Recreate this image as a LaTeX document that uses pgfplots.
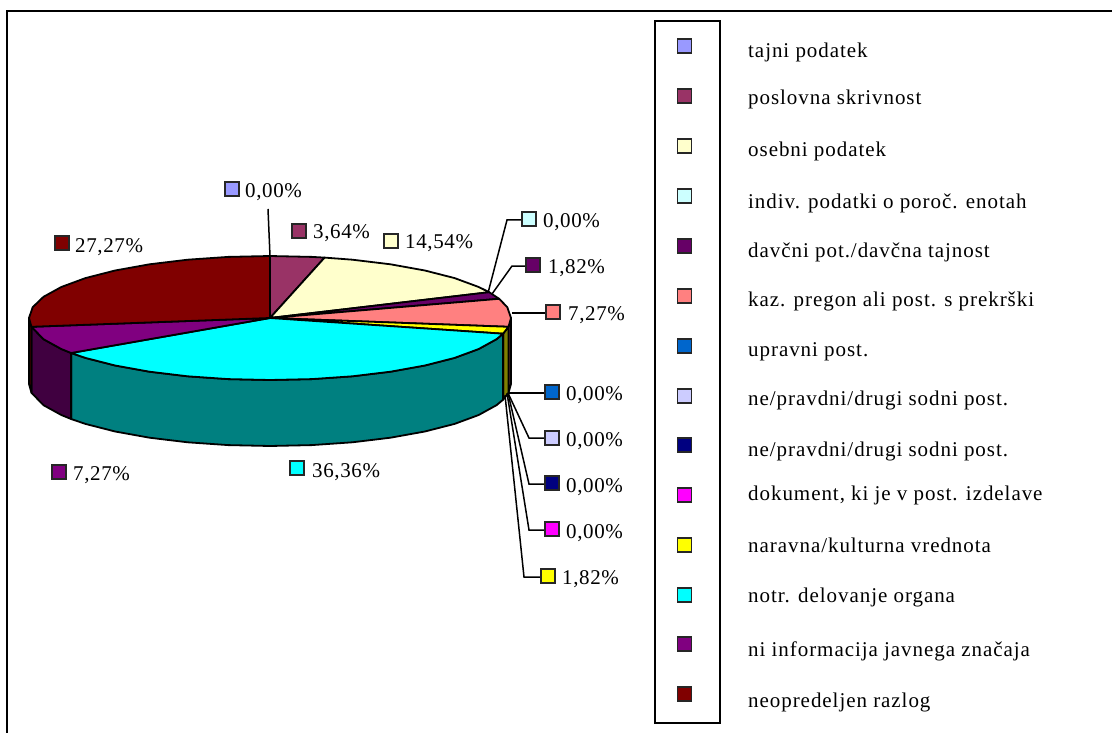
\documentclass[border=0pt]{standalone}
\usepackage{pgfplots}
\pgfplotsset{compat=1.18}
\usepackage{fontspec}
\setmainfont{Liberation Serif}[LetterSpace=3]
\newfontfamily\legfont{Liberation Serif}[LetterSpace=4.5]
\definecolor{c1}{HTML}{9999FF}\definecolor{c2}{HTML}{993366}\definecolor{c3}{HTML}{FFFFCC}
\definecolor{c4}{HTML}{CCFFFF}\definecolor{c5}{HTML}{660066}\definecolor{c6}{HTML}{FF8080}
\definecolor{c7}{HTML}{0066CC}\definecolor{c8}{HTML}{CCCCFF}\definecolor{c9}{HTML}{000080}
\definecolor{c10}{HTML}{FF00FF}\definecolor{c11}{HTML}{FFFF00}\definecolor{c12}{HTML}{00FFFF}
\definecolor{c13}{HTML}{800080}\definecolor{c14}{HTML}{800000}
\definecolor{w6}{HTML}{804040}\definecolor{w11}{HTML}{808000}\definecolor{w12}{HTML}{008080}
\definecolor{w13}{HTML}{400040}\definecolor{w14}{HTML}{400000}
\pgfplotsset{
  sl/.style={fill=#1,draw=black,line width=1.8pt,line join=round},
  lead/.style={black,line width=1.5pt,no markers},
  box/.style={only marks,mark=square*,mark size=7pt,mark options={fill=#1,draw=black!85,line width=1.5pt}},
}
\newcommand{\lab}[3]{\node[anchor=base west,inner sep=0pt,font=\fontsize{21}{25}\selectfont] at (axis cs:#1,#2) {#3};}
\newcommand{\leg}[3]{\node[anchor=base west,inner sep=0pt,font=\legfont\fontsize{21}{25}\selectfont] at (axis cs:#1,#2) {#3};}
\begin{document}
\begin{tikzpicture}
\path[use as bounding box] (0,0) rectangle (1112pt,733pt);
\begin{axis}[anchor=south west,at={(0,0)},scale only axis,width=1112pt,height=733pt,
  xmin=0,xmax=1112,ymin=0,ymax=733,y dir=reverse,hide axis,clip=false]
% frame
\addplot[black,line width=2.5pt,no markers] coordinates {(7,733)(7,11)(1112,11)};
% walls (rim point, rim point + depth)
\addplot[sl=w6] coordinates {(511,318)(508.5,326.8)(508.5,392.8)(511,384)} -- cycle;
\addplot[sl=w11] coordinates {(508.5,326.8)(503.1,333.7)(503.1,399.7)(508.5,392.8)} -- cycle;
\addplot[sl=w12] coordinates {(503.1,333.7)(496.5,339.2)(478.7,349)(454.6,357.9)(424.9,365.5)(390.5,371.7)(352.4,376.3)(311.8,379.1)(270,380)(228.2,379.1)(187.6,376.3)(149.5,371.7)(115.1,365.5)(85.4,357.9)(71.1,353)
  (71.1,419)(85.4,423.9)(115.1,431.5)(149.5,437.7)(187.6,442.3)(228.2,445.1)(270,446)(311.8,445.1)(352.4,442.3)(390.5,437.7)(424.9,431.5)(454.6,423.9)(478.7,415)(496.5,405.2)(503.1,399.7)} -- cycle;
\addplot[sl=w13] coordinates {(71.1,353)(61.3,349)(43.5,339.2)(31.5,326.8)(31.5,392.8)(43.5,405.2)(61.3,415)(71.1,419)} -- cycle;
\addplot[sl=w14] coordinates {(31.5,326.8)(29,318)(29,384)(31.5,392.8)} -- cycle;
% top faces
\addplot[sl=c2] coordinates {(270,318)(270,256)(311.8,256.9)(324.6,257.6)} -- cycle;
\addplot[sl=c3] coordinates {(270,318)(324.6,257.6)(352.4,259.7)(390.5,264.3)(424.9,270.5)(454.6,278.1)(478.7,287)(489.2,292.2)} -- cycle;
\addplot[sl=c5] coordinates {(270,318)(489.2,292.2)(499.2,298.8)} -- cycle;
\addplot[sl=c6] coordinates {(270,318)(499.2,298.8)(507.3,307.2)(511,318)(508.5,326.8)} -- cycle;
\addplot[sl=c11] coordinates {(270,318)(508.5,326.8)(503.1,333.7)} -- cycle;
\addplot[sl=c12] coordinates {(270,318)(503.1,333.7)(496.5,339.2)(478.7,349)(454.6,357.9)(424.9,365.5)(390.5,371.7)(352.4,376.3)(311.8,379.1)(270,380)(228.2,379.1)(187.6,376.3)(149.5,371.7)(115.1,365.5)(85.4,357.9)(71.1,353)} -- cycle;
\addplot[sl=c13] coordinates {(270,318)(71.1,353)(61.3,349)(43.5,339.2)(31.5,326.8)} -- cycle;
\addplot[sl=c14] coordinates {(270,318)(31.5,326.8)(29,318)(32.7,307.2)(43.5,296.8)(61.3,287)(85.4,278.1)(115.1,270.5)(149.5,264.3)(187.6,259.7)(228.2,256.9)(270,256)} -- cycle;
% leader lines
\addplot[lead] coordinates {(268,209)(270,256)};
\addplot[lead] coordinates {(488,293)(507,220)(521,220)};
\addplot[lead] coordinates {(492,294)(512,266)(526,266)};
\addplot[lead] coordinates {(512,313)(546,313)};
\addplot[lead] coordinates {(509,393)(544,393)};
\addplot[lead] coordinates {(508,393)(529,438)(544,438)};
\addplot[lead] coordinates {(508,393)(529,484)(544,484)};
\addplot[lead] coordinates {(507,393)(529,530)(544,530)};
\addplot[lead] coordinates {(505,395)(524,577)(541,577)};
% data label keys
\addplot[box=c1] coordinates {(232,189)};
\addplot[box=c2] coordinates {(299,231)};
\addplot[box=c3] coordinates {(391,241)};
\addplot[box=c4] coordinates {(529,219)};
\addplot[box=c5] coordinates {(533,265)};
\addplot[box=c6] coordinates {(553,312)};
\addplot[box=c7] coordinates {(552,392)};
\addplot[box=c8] coordinates {(552,438)};
\addplot[box=c9] coordinates {(552,483)};
\addplot[box=c10] coordinates {(552,529)};
\addplot[box=c11] coordinates {(548,576)};
\addplot[box=c12] coordinates {(297,468)};
\addplot[box=c13] coordinates {(59,472)};
\addplot[box=c14] coordinates {(62,243)};
\lab{245}{197}{0,00\%}
\lab{313}{239}{3,64\%}
\lab{405}{248}{14,54\%}
\lab{543}{227}{0,00\%}
\lab{548}{273}{1,82\%}
\lab{568}{320}{7,27\%}
\lab{566}{400}{0,00\%}
\lab{566}{446}{0,00\%}
\lab{566}{492}{0,00\%}
\lab{566}{538}{0,00\%}
\lab{562}{584}{1,82\%}
\lab{312}{477}{36,36\%}
\lab{73}{480}{7,27\%}
\lab{75}{252}{27,27\%}
% legend
\addplot[black,line width=1.8pt,no markers] coordinates {(655,21)(720,21)(720,723)(655,723)} -- cycle;
\addplot[box=c1] coordinates {(684.5,46)};
\addplot[box=c2] coordinates {(684.5,96)};
\addplot[box=c3] coordinates {(684.5,146)};
\addplot[box=c4] coordinates {(684.5,196)};
\addplot[box=c5] coordinates {(684.5,246)};
\addplot[box=c6] coordinates {(684.5,296)};
\addplot[box=c7] coordinates {(684.5,346)};
\addplot[box=c8] coordinates {(684.5,396)};
\addplot[box=c9] coordinates {(684.5,445)};
\addplot[box=c10] coordinates {(684.5,495)};
\addplot[box=c11] coordinates {(684.5,545)};
\addplot[box=c12] coordinates {(684.5,595)};
\addplot[box=c13] coordinates {(684.5,644)};
\addplot[box=c14] coordinates {(684.5,694)};
\leg{748}{58}{tajni podatek}
\leg{748}{105}{poslovna skrivnost}
\leg{748}{157}{osebni podatek}
\leg{748}{208}{indiv. podatki o poroč. enotah}
\leg{748}{257}{davčni pot./davčna tajnost}
\leg{748}{306}{kaz. pregon ali post. s prekrški}
\leg{748}{356}{upravni post.}
\leg{748}{405}{ne/pravdni/drugi sodni post.}
\leg{748}{456}{ne/pravdni/drugi sodni post.}
\leg{748}{500}{dokument, ki je v post. izdelave}
\leg{748}{552}{naravna/kulturna vrednota}
\leg{748}{602}{notr. delovanje organa}
\leg{748}{656}{ni informacija javnega značaja}
\leg{748}{707}{neopredeljen razlog}
\end{axis}
\end{tikzpicture}
\end{document}
